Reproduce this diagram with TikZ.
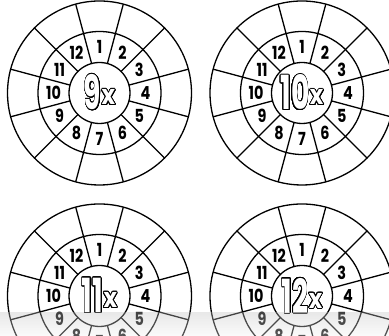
\documentclass[tikz,border=0pt]{standalone}
\usepackage{fontspec}
\setmainfont{Poppins}
\usepackage{contour}
\contourlength{1pt}
\contournumber{32}

\tikzset{
  wheel/.style={circle, draw, line width=1.3pt, inner sep=0pt, outer sep=0pt},
  num/.style={font=\fontsize{18}{18}\selectfont\bfseries, inner sep=0pt},
}
\newcommand{\hubtext}[1]{%
  \scalebox{0.6}[1]{\fontsize{47}{47}\selectfont\bfseries\color{white}\contour{black}{#1}}%
  \kern0.5pt\raisebox{5pt}{\scalebox{0.85}[1]{\fontsize{27}{27}\selectfont\bfseries\color{white}\contour{black}{x}}}}

\begin{document}
\begin{tikzpicture}[x=1pt, y=1pt, line width=1.3pt]
  \useasboundingbox (0,0) rectangle (389,336);
  \clip (0,0) rectangle (389,336);
  % four times-table wheels
  \foreach \w/\cx/\cy/\f in {a/99.5/243/9, b/302/243/10, c/99.5/40/11, d/302/40/12} {
    \node[wheel, minimum size=184pt] (rim-\w) at (\cx,\cy) {};
    \node[wheel, minimum size=123pt] (ring-\w) at (\cx,\cy) {};
    \node[wheel, minimum size=61pt] (hub-\w) at (\cx,\cy) {\hubtext{\f}};
    \foreach \a in {15,45,...,345}
      \draw (hub-\w.\a) -- (rim-\w.\a);
    \foreach \n in {1,...,12}
      \node[num] (n-\w\n) at ([shift={(120-30*\n:46)}]hub-\w.center)
        {\scalebox{0.8}[1]{\n}};
  }
  % grey strip along the bottom edge
  \shade[top color=gray!50, bottom color=gray!10, fill opacity=0.35]
    (0,0) rectangle (389,23);
\end{tikzpicture}
\end{document}
